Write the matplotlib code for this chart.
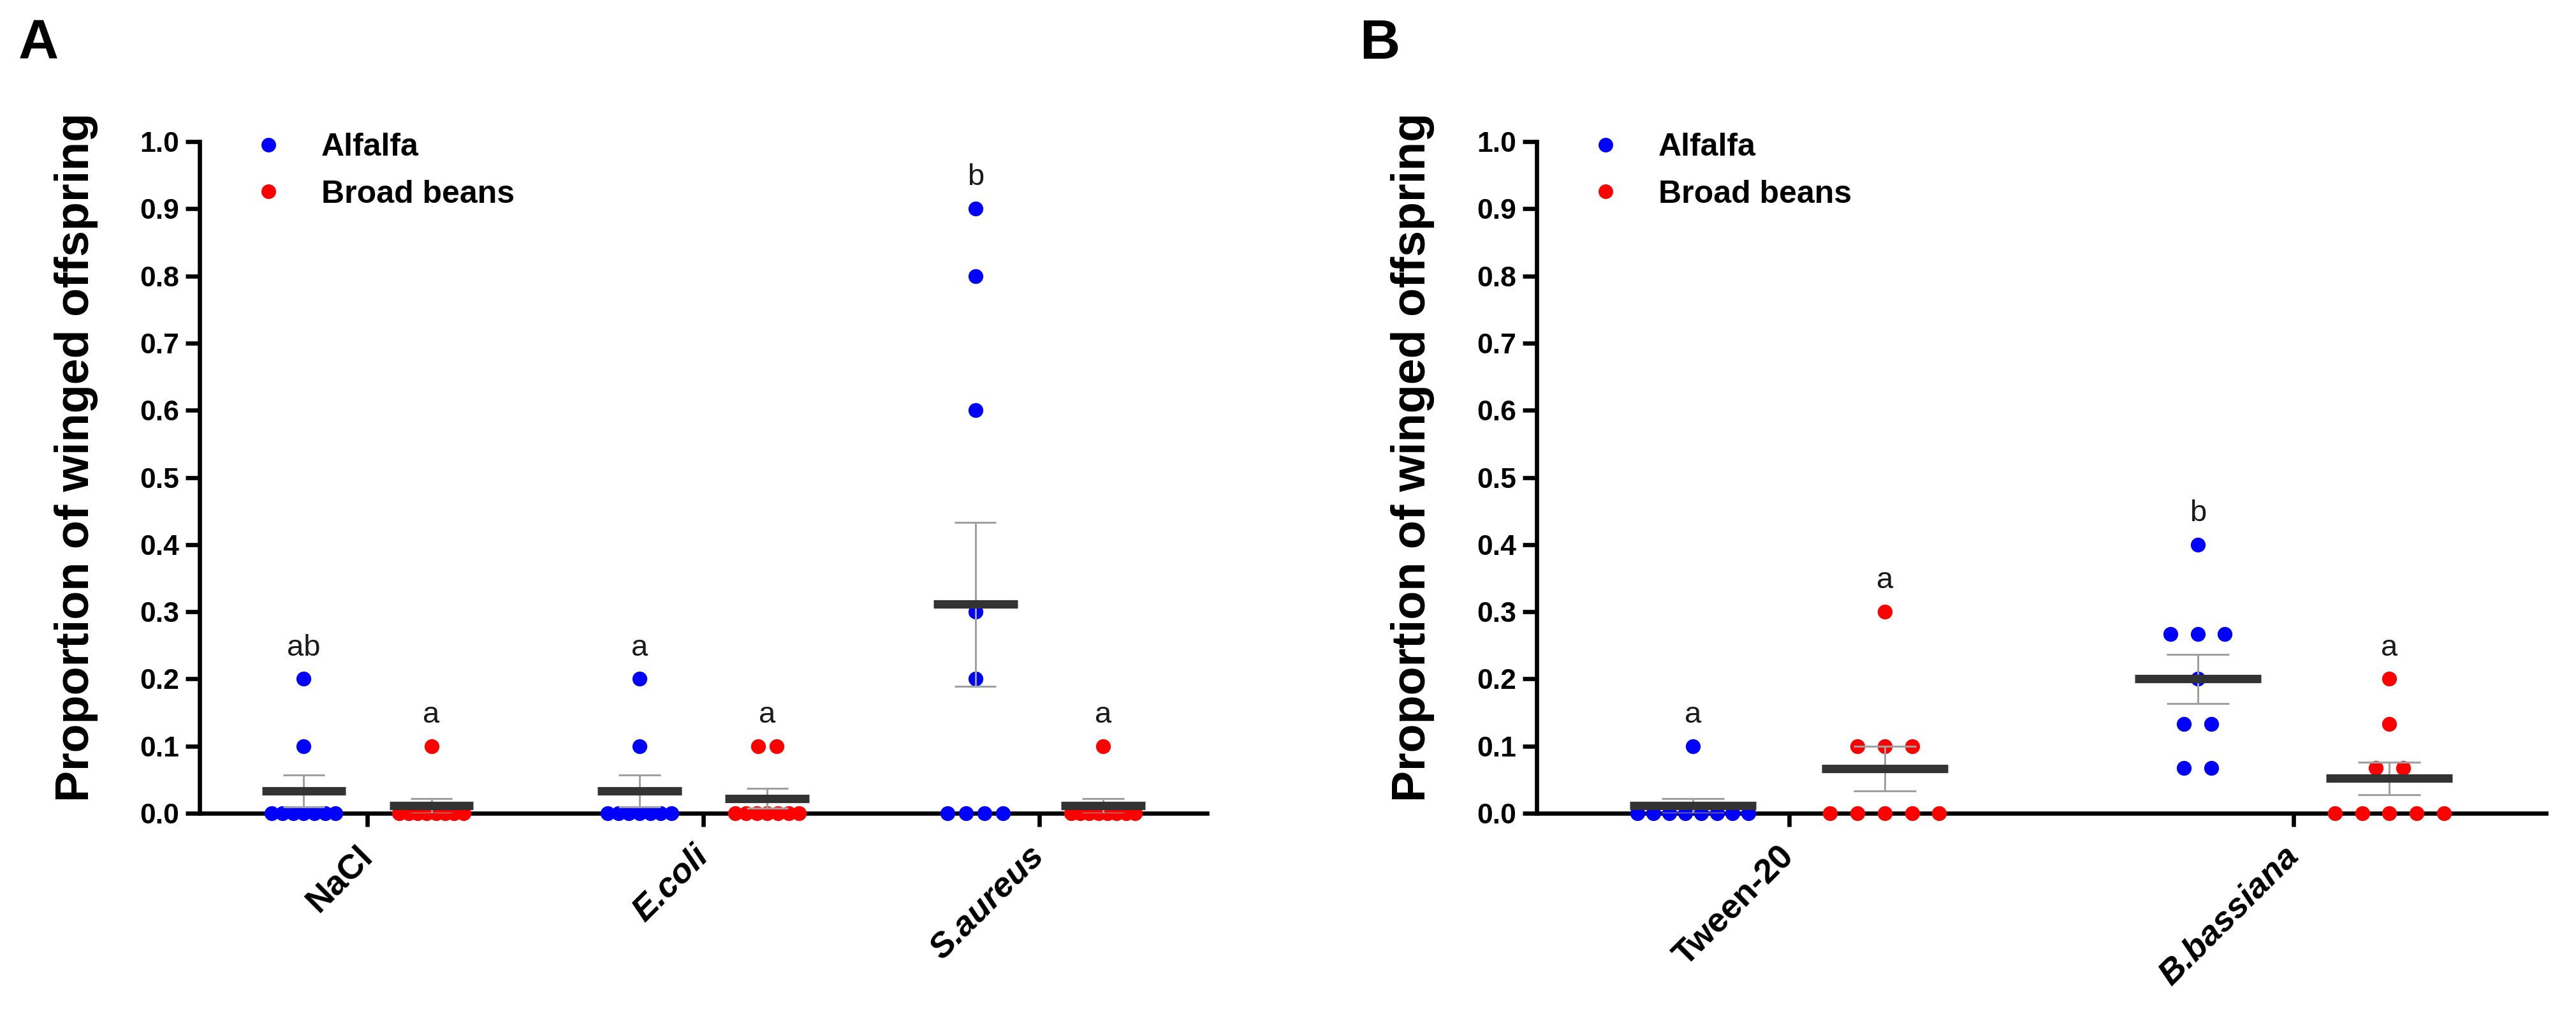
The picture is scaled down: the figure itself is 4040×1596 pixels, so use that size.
import numpy as np
import matplotlib.pyplot as plt
from matplotlib.lines import Line2D

plt.rcParams['font.family'] = ['Liberation Sans', 'DejaVu Sans']

# ---- data (proportion of winged offspring, 9 replicates each) ----
cats_A = ["NaCl", "E.coli", "S.aureus"]
italic_A = [False, True, True]
alfalfa_A = [
    [0.2, 0.1, 0, 0, 0, 0, 0, 0, 0],
    [0.2, 0.1, 0, 0, 0, 0, 0, 0, 0],
    [0.9, 0.8, 0.6, 0.3, 0.2, 0, 0, 0, 0],
]
beans_A = [
    [0.1, 0, 0, 0, 0, 0, 0, 0, 0],
    [0.1, 0.1, 0, 0, 0, 0, 0, 0, 0],
    [0.1, 0, 0, 0, 0, 0, 0, 0, 0],
]
letters_alf_A = ["ab", "a", "b"]
letters_bea_A = ["a", "a", "a"]

cats_B = ["Tween-20", "B.bassiana"]
italic_B = [False, True]
alfalfa_B = [
    [0.1, 0, 0, 0, 0, 0, 0, 0, 0],
    [0.4, 0.267, 0.267, 0.267, 0.2, 0.133, 0.133, 0.067, 0.067],
]
beans_B = [
    [0.3, 0.1, 0.1, 0.1, 0, 0, 0, 0, 0],
    [0.2, 0.133, 0.067, 0.067, 0, 0, 0, 0, 0],
]
letters_alf_B = ["a", "b"]
letters_bea_B = ["a", "a"]

BLUE = "#0000ff"
RED = "#ff0000"


def spread(vals, gap, maxw):
    # horizontal offsets so that equal values sit side by side
    vals = np.asarray(vals, dtype=float)
    offs = np.zeros(len(vals))
    for v in np.unique(vals):
        idx = np.where(vals == v)[0]
        k = len(idx)
        if k > 1:
            step = min(gap, maxw / (k - 1))
            offs[idx] = (np.arange(k) - (k - 1) / 2) * step
    return offs


def draw_panel(ax, cats, italic, alf, bea, let_alf, let_bea, gap, maxw):
    for i in range(len(cats)):
        for vals, off, col, lab in [(alf[i], -0.19, BLUE, let_alf[i]),
                                    (bea[i], 0.19, RED, let_bea[i])]:
            vals = np.asarray(vals, dtype=float)
            xc = i + off
            ax.scatter(xc + spread(vals, gap, maxw), vals, s=280, color=col,
                       linewidths=0, zorder=5, clip_on=False)
            m = vals.mean()
            se = vals.std(ddof=1) / np.sqrt(len(vals))
            ax.vlines(xc, m - se, m + se, color="#a0a0a0", lw=2.2, zorder=6)
            ax.hlines([m - se, m + se], xc - 0.062, xc + 0.062,
                      color="#a0a0a0", lw=2.2, zorder=6)
            ax.hlines(m, xc - 0.125, xc + 0.125, color="#333333", lw=9.5, zorder=7)
            ax.text(xc, max(vals.max(), m + se) + 0.035, lab, ha="center",
                    va="baseline", fontsize=34, color="#1a1a1a")

    ax.set_xlim(-0.5, len(cats) - 0.5)
    ax.set_ylim(0, 1.0)
    ax.set_yticks(np.arange(0, 1.01, 0.1))
    ax.set_yticklabels(["%.1f" % t for t in np.arange(0, 1.01, 0.1)],
                       fontweight="bold")
    ax.set_xticks(range(len(cats)))
    ax.set_xticklabels(cats, rotation=45, ha="right", va="center",
                       rotation_mode="anchor", fontsize=39, fontweight="bold")
    for t, it in zip(ax.get_xticklabels(), italic):
        if it:
            t.set_fontstyle("italic")
    ax.tick_params(axis="y", width=4.8, length=16, labelsize=32, pad=7)
    ax.tick_params(axis="x", width=4.8, length=15, pad=28)
    for s in ["top", "right"]:
        ax.spines[s].set_visible(False)
    for s in ["left", "bottom"]:
        ax.spines[s].set_linewidth(4.8)
    ax.set_ylabel("Proportion of winged offspring", fontsize=53,
                  fontweight="bold")
    ax.yaxis.set_label_coords(-0.101, 0.53)

    handles = [Line2D([], [], ls="", marker="o", ms=16.5, mew=0, color=BLUE),
               Line2D([], [], ls="", marker="o", ms=16.5, mew=0, color=RED)]
    ax.legend(handles, ["Alfalfa", "Broad beans"], loc="upper left",
              bbox_to_anchor=(0.0525, 1.013), frameon=False,
              borderaxespad=0, borderpad=0, handlelength=1.0,
              handletextpad=1.16, labelspacing=0.55,
              prop={"size": 36, "weight": "bold"})
    return ax


fig = plt.figure(figsize=(40.4, 15.96), dpi=100)
axA = fig.add_axes([0.0775, 0.2011, 0.3911, 0.6598])
axB = fig.add_axes([0.5965, 0.2011, 0.3918, 0.6598])

draw_panel(axA, cats_A, italic_A, alfalfa_A, beans_A, letters_alf_A,
           letters_bea_A, gap=0.055, maxw=0.19)
draw_panel(axB, cats_B, italic_B, alfalfa_B, beans_B, letters_alf_B,
           letters_bea_B, gap=0.054, maxw=0.22)

fig.text(0.0072, 0.9424, "A", fontsize=63, fontweight="bold", va="baseline")
fig.text(0.5277, 0.9424, "B", fontsize=63, fontweight="bold", va="baseline")

fig.savefig("out.png", dpi=100, facecolor="white")
